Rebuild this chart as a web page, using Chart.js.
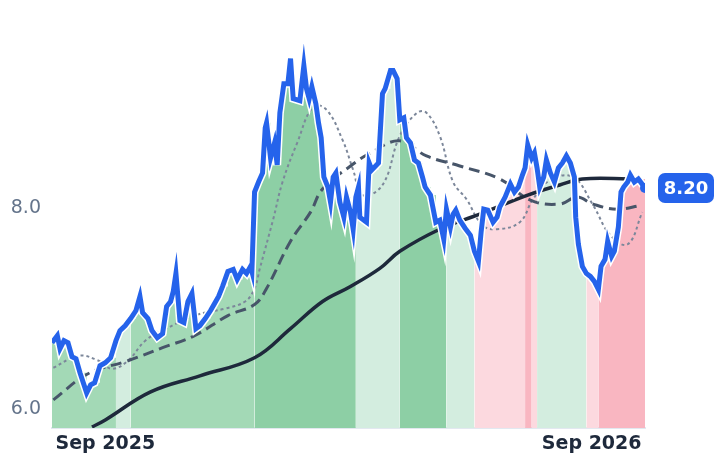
<!DOCTYPE html>
<html><head><meta charset="utf-8">
<script src="https://cdn.jsdelivr.net/npm/chart.js@4"></script>
<style>html,body{margin:0;padding:0;background:#fff}#w{width:718px;height:464px}</style>
</head><body><div id="w"><canvas id="c"></canvas></div>
<script>
// days since 1 Sep 2025
const priceDays = [-40,-36,-34,-31,-28,-25,-22,-19,-14,-11,-8,-4,0,4,8,11,15,19,23,26,28,32,35,39,43,46,49,51,53,56,59,62,65,68,71,75,79,82,85,88,92,96,99,103,106,109,110,112,115,118,120,121,124,127,129,131,134,137,139,141,146,149,151,153,155,158,160,162,164,167,169,171,173,176,179,181,184,186,188,190,191,196,198,200,205,208,210,214,216,219,221,224,226,229,232,235,238,240,244,248,251,254,256,259,261,263,266,270,274,277,280,282,284,287,291,294,296,300,304,307,310,313,315,317,320,322,324,326,329,331,334,337,340,343,346,349,352,353,355,358,361,364,367,370,372,375,377,380,382,385,387,389,392,394,397,400,405];
const priceValues = [6.66,6.73,6.60,6.68,6.66,6.52,6.50,6.36,6.16,6.24,6.26,6.43,6.46,6.51,6.68,6.78,6.83,6.90,6.98,7.12,6.96,6.90,6.78,6.71,6.75,7.02,7.07,7.17,7.35,6.88,6.86,7.07,7.15,6.80,6.83,6.90,6.98,7.05,7.12,7.22,7.37,7.39,7.29,7.39,7.35,7.42,7.37,8.16,8.26,8.35,8.80,8.85,8.50,8.65,8.43,8.95,9.24,9.24,9.49,9.09,9.07,9.42,9.19,9.09,9.21,9.04,8.85,8.70,8.31,8.21,8.06,8.31,8.35,8.06,7.91,8.11,7.96,7.79,8.11,8.21,7.91,7.86,8.45,8.38,8.45,9.14,9.19,9.37,9.37,9.29,8.88,8.90,8.70,8.65,8.48,8.45,8.31,8.21,8.13,7.86,7.88,7.69,7.99,7.81,7.94,7.98,7.88,7.80,7.73,7.57,7.47,7.76,7.99,7.98,7.86,7.91,8.01,8.11,8.24,8.16,8.21,8.33,8.40,8.63,8.50,8.55,8.40,8.21,8.31,8.48,8.35,8.26,8.40,8.45,8.52,8.45,8.31,7.91,7.64,7.42,7.35,7.32,7.27,7.19,7.42,7.49,7.67,7.52,7.57,7.81,8.16,8.21,8.26,8.33,8.26,8.29,8.20];
const longDays = [-10,0,34,71,112,139,163,184,206,221,251,281,317,341,358,392,401];
const longValues = [5.82,5.89,6.17,6.33,6.51,6.80,7.07,7.22,7.40,7.57,7.79,7.94,8.13,8.23,8.29,8.29,8.28];
const midDays = [-39,-13,17,43,67,92,112,121,139,154,163,184,199,221,241,266,296,319,341,354,366,384,403];
const midValues = [6.09,6.35,6.48,6.61,6.73,6.93,7.04,7.20,7.67,7.96,8.19,8.42,8.55,8.67,8.52,8.42,8.29,8.08,8.04,8.11,8.04,7.99,8.03];
const shortDays = [-39,-20,-5,5,17,30,43,67,90,105,112,116,126,133,144,156,166,178,186,193,208,221,234,241,251,261,271,283,294,311,321,334,351,366,379,392,403];
const shortValues = [6.41,6.53,6.48,6.40,6.48,6.68,6.78,6.93,7.00,7.07,7.20,7.40,7.89,8.26,8.65,9.01,8.98,8.68,8.38,8.13,8.23,8.72,8.95,8.95,8.72,8.26,8.09,7.83,7.79,7.86,8.09,8.28,8.31,8.03,7.73,7.64,7.96];
// regimes: start day and kind
const regimeStarts = [-40,8,20,112,188,222,257,278,315,320,324,361,369];
const regimeKinds  = ['g2','g1','g2','g3','g1','g3','g1','r1','r2','r1','g1','r1','r2'];
const tickDays = [0,365];
const tickLabels = ['Sep 2025','Sep 2026'];
const yTicks = [6,8];

const kindColor = {g1:'#d3eddf', g2:'#a3d9b6', g3:'#8dcfa5', r1:'#fcd9df', r2:'#f9b6c1'};
function regimeAt(d){let k=regimeKinds[0];for(let i=0;i<regimeStarts.length;i++){if(d>=regimeStarts[i])k=regimeKinds[i];}return kindColor[k];}
const pts=(xs,ys)=>xs.map((x,i)=>({x,y:ys[i]}));
const lastVal = priceValues[priceValues.length-1];

const labelPlugin={id:'lbl',afterDatasetsDraw(chart){
  const {ctx,scales:{y}}=chart;
  const py=y.getPixelForValue(lastVal);
  const bx=658,bw=56,bh=30,by=py-bh/2;
  ctx.save();ctx.fillStyle='#2563eb';
  ctx.beginPath();ctx.roundRect(bx,by,bw,bh,7);ctx.fill();
  ctx.fillStyle='#fff';ctx.font='bold 18px "DejaVu Sans"';ctx.textAlign='center';ctx.textBaseline='middle';
  ctx.fillText(lastVal.toFixed(2),bx+bw/2,py+1);ctx.restore();
}};

new Chart(document.getElementById('c'),{
  type:'line',
  data:{datasets:[
    {data:pts(priceDays,priceValues),borderColor:'#2563eb',borderWidth:5,pointRadius:ctx=>ctx.dataIndex===priceValues.length-1?5:0,pointBackgroundColor:'#2563eb',pointBorderWidth:0,tension:0,order:1},
    {data:pts(priceDays,priceValues),borderColor:'#ffffff',borderWidth:8,pointRadius:0,tension:0,order:2},
    {data:pts(longDays,longValues),borderColor:'#1e293b',borderWidth:3.5,pointRadius:0,tension:0.4,order:3},
    {data:pts(midDays,midValues),borderColor:'#475569',borderWidth:3,borderDash:[11,6],pointRadius:0,tension:0.4,order:4},
    {data:pts(shortDays,shortValues),borderColor:'#7c879a',borderWidth:2,borderDash:[3,3],pointRadius:0,tension:0.4,order:5},
    {data:pts(priceDays,priceValues),borderWidth:0,borderColor:'rgba(0,0,0,0)',pointRadius:0,stepped:true,fill:'start',backgroundColor:'#a3d9b6',
      segment:{backgroundColor:c=>regimeAt((c.p0.parsed.x+c.p1.parsed.x)/2)},order:6}
  ]},
  options:{animation:false,responsive:true,maintainAspectRatio:false,
    layout:{padding:{top:0,right:73,bottom:0,left:0}},
    plugins:{legend:{display:false},tooltip:{enabled:false}},
    scales:{
      x:{type:'linear',min:-40,max:405,grid:{display:false,drawTicks:false},border:{color:'#e2e8f0',width:2},
        afterBuildTicks:s=>{s.ticks=tickDays.map(v=>({value:v}));},
        afterFit:s=>{s.height=36;},
        ticks:{padding:5,color:'#1e293b',font:{family:'DejaVu Sans',size:19,weight:'bold'},maxRotation:0,autoSkip:false,
          callback:(v)=>tickLabels[tickDays.indexOf(v)]}},
      y:{min:5.81,max:9.85,grid:{display:false,drawTicks:false},border:{display:false},
        afterBuildTicks:s=>{s.ticks=yTicks.map(v=>({value:v}));},
        afterFit:s=>{s.width=52;},
        ticks:{padding:11,color:'#64748b',font:{family:'DejaVu Sans',size:19},callback:v=>v.toFixed(1)}}
    }},
  plugins:[labelPlugin]
});
</script></body></html>
